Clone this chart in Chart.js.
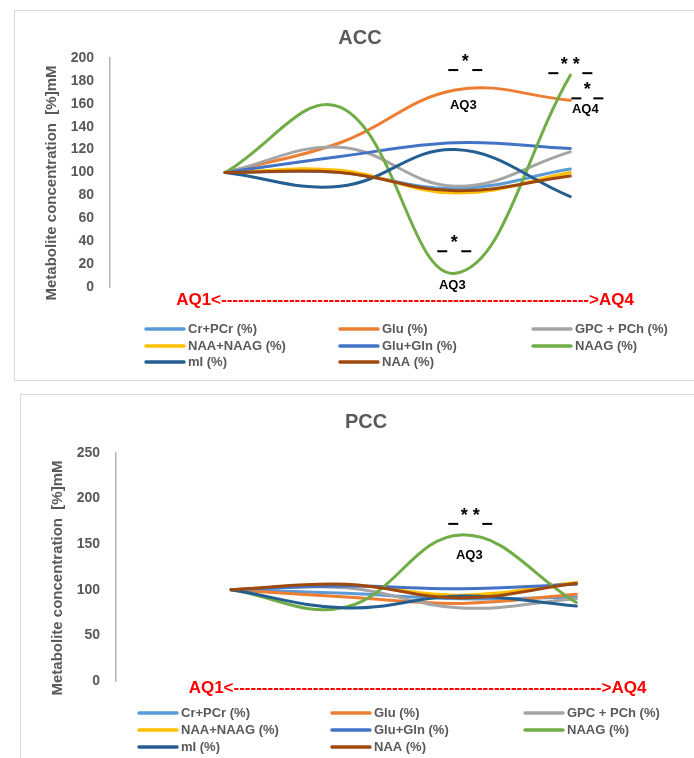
<!DOCTYPE html>
<html>
<head>
<meta charset="utf-8">
<script src="https://cdn.jsdelivr.net/npm/chart.js@4.4.1/dist/chart.umd.min.js"></script>
<style>
  html, body { margin: 0; padding: 0; background: #fff; width: 694px; height: 758px; overflow: hidden; }
  .panel { position: absolute; border: 1px solid #d9d9d9; background: #fff; }
  #accBox { left: 14px; top: 10px; }
  #pccBox { left: 20px; top: 394px; }
  canvas { display: block; }
</style>
</head>
<body>
<div class="panel" id="accBox"><canvas id="acc" width="690" height="369"></canvas></div>
<div class="panel" id="pccBox"><canvas id="pcc" width="690" height="378"></canvas></div>
<script>
const periods = ['AQ1', 'AQ2', 'AQ3', 'AQ4'];
const metabolites = ['Cr+PCr (%)', 'Glu (%)', 'GPC + PCh (%)', 'NAA+NAAG (%)',
                     'Glu+Gln (%)', 'NAAG (%)', 'mI (%)', 'NAA (%)'];
const lineColors = ['#5B9BD5', '#ED7D31', '#A5A5A5', '#FFC000',
                    '#4472C4', '#70AD47', '#255E91', '#9E480E'];

/* ACC, AQ1..AQ4 */
const accCrPCr   = [100, 100, 86, 103];
const accGlu     = [100, 126, 172, 163];
const accGpcPch  = [100, 122, 88, 118];
const accNaaNaag = [100, 102, 82, 100];
const accGluGln  = [100, 114, 126, 121];
const accNaag    = [100, 157, 12, 185];
const accMi      = [100, 88, 120, 79];
const accNaa     = [100, 100, 84, 97];
const accYTicks  = [0, 20, 40, 60, 80, 100, 120, 140, 160, 180, 200];

/* PCC, AQ1..AQ4 */
const pccCrPCr   = [100, 96, 90, 92];
const pccGlu     = [100, 92, 85, 95];
const pccGpcPch  = [100, 102, 80, 90];
const pccNaaNaag = [100, 105, 94, 108];
const pccGluGln  = [100, 104, 101, 106];
const pccNaag    = [100, 81, 160, 86];
const pccMi      = [100, 80, 93, 82];
const pccNaa     = [100, 106, 91, 107];
const pccYTicks  = [0, 50, 100, 150, 200, 250];

const axisCaption = 'AQ1<' + '-'.repeat(65) + '>AQ4';
const yCaption = 'Metabolite concentration  [%]mM';

const FONT = "'Liberation Sans', Arial, sans-serif";
const gray = '#595959';
Chart.defaults.font.family = FONT;

function series(rows) {
  return rows.map((vals, i) => ({
    label: metabolites[i],
    data: vals.map((v, k) => ({ x: k, y: v })),
    borderColor: lineColors[i],
    backgroundColor: lineColors[i],
    borderWidth: 3,
    borderCapStyle: 'round',
    pointRadius: 0,
    tension: 0.4,
    fill: false,
    order: rows.length - i   // later series sit on top
  }));
}

// text, stars and the legend grid under/around the plot
const decor = {
  id: 'decor',
  afterDraw(chart, args, o) {
    const ctx = chart.ctx;
    ctx.save();

    // rotated y caption
    ctx.save();
    ctx.fillStyle = gray;
    ctx.font = 'bold 15px ' + FONT;
    ctx.textAlign = 'center';
    ctx.textBaseline = 'middle';
    ctx.translate(o.yTitle.x, o.yTitle.y);
    ctx.rotate(-Math.PI / 2);
    ctx.fillText(yCaption, 0, 0);
    ctx.restore();

    // red quartile arrow
    ctx.fillStyle = '#FF0000';
    ctx.font = 'bold 17px ' + FONT;
    ctx.textAlign = 'center';
    ctx.textBaseline = 'middle';
    ctx.fillText(axisCaption, o.caption.x, o.caption.y);

    // significance marks
    o.marks.forEach(m => {
      const pt = chart.getDatasetMeta(m.series).data[m.point];
      const sx = pt.x + m.dx, sy = pt.y + m.dy;
      ctx.fillStyle = '#000';
      ctx.font = 'bold 18px ' + FONT;
      ctx.textAlign = 'center';
      ctx.textBaseline = 'middle';
      ctx.fillText(m.stars, sx, sy + 4);
      ctx.fillRect(sx - m.gap - 10, sy + 11, 10, 2);
      ctx.fillRect(sx + m.gap, sy + 11, 10, 2);
      if (m.label) {
        ctx.font = 'bold 13px ' + FONT;
        ctx.fillText(m.label, pt.x + m.lx, pt.y + m.ly);
      }
    });

    // legend, three columns
    chart.data.datasets.forEach((ds, i) => {
      const x = o.legend.cols[i % 3];
      const y = o.legend.rows[Math.floor(i / 3)];
      ctx.strokeStyle = ds.borderColor;
      ctx.lineWidth = 3.5;
      ctx.lineCap = 'round';
      ctx.beginPath();
      ctx.moveTo(x, y);
      ctx.lineTo(x + 38, y);
      ctx.stroke();
      ctx.fillStyle = gray;
      ctx.font = 'bold 13px ' + FONT;
      ctx.textAlign = 'left';
      ctx.textBaseline = 'middle';
      ctx.fillText(ds.label, x + 42, y);
    });
    ctx.restore();
  }
};

function makeOptions(cfg) {
  const ticks = cfg.ticks;
  return {
    responsive: false,
    animation: false,
    layout: { padding: { top: 0, left: 0, right: 0, bottom: cfg.padBottom } },
    plugins: {
      legend: { display: false },
      tooltip: { enabled: false },
      title: {
        display: true,
        text: cfg.title,
        color: gray,
        font: { size: 20, weight: 'bold' },
        padding: { top: 15, bottom: cfg.titleGap }
      },
      decor: cfg.decor
    },
    scales: {
      x: {
        type: 'linear',
        display: false,
        min: -1,
        max: 4.17   // empty room right of AQ4
      },
      y: {
        min: ticks[0],
        max: ticks[ticks.length - 1],
        afterFit: s => { s.width = 95; },
        grid: { display: false, drawTicks: false },
        border: { display: true, color: '#b4b4b4', width: 1.5 },
        ticks: {
          stepSize: ticks[1] - ticks[0],
          padding: 16,
          color: gray,
          font: { size: 14, weight: 'bold' }
        }
      }
    }
  };
}

/* ACC */
new Chart(document.getElementById('acc'), {
  type: 'line',
  data: {
    datasets: series([accCrPCr, accGlu, accGpcPch, accNaaNaag, accGluGln, accNaag, accMi, accNaa])
  },
  options: makeOptions({
    title: 'ACC',
    ticks: accYTicks,
    titleGap: 8,
    padBottom: 93,
    decor: {
      yTitle: { x: 37, y: 172 },
      caption: { x: 390, y: 289 },
      legend: { cols: [131, 325, 518], rows: [318, 335, 351] },
      marks: [
        { series: 1, point: 2, stars: '*', dx: 10, dy: -32, gap: 7, label: periods[2], lx: 8, ly: 15 },
        { series: 5, point: 3, stars: '* *', dx: 0, dy: -14, gap: 12 },
        { series: 1, point: 3, stars: '*', dx: 17, dy: -14, gap: 6, label: periods[3], lx: 15, ly: 9 },
        { series: 5, point: 2, stars: '*', dx: -1, dy: -34, gap: 7, label: periods[2], lx: -3, ly: 12 }
      ]
    }
  }),
  plugins: [decor]
});

/* PCC */
new Chart(document.getElementById('pcc'), {
  type: 'line',
  data: {
    datasets: series([pccCrPCr, pccGlu, pccGpcPch, pccNaaNaag, pccGluGln, pccNaag, pccMi, pccNaa])
  },
  options: makeOptions({
    title: 'PCC',
    ticks: pccYTicks,
    titleGap: 18.7,
    padBottom: 92,
    decor: {
      yTitle: { x: 36.5, y: 183 },
      caption: { x: 396.5, y: 293 },
      legend: { cols: [118, 311, 504], rows: [318, 335, 352] },
      marks: [
        { series: 5, point: 2, stars: '* *', dx: 9, dy: -23, gap: 12, label: periods[2], lx: 8, ly: 21 }
      ]
    }
  }),
  plugins: [decor]
});
</script>
</body>
</html>
